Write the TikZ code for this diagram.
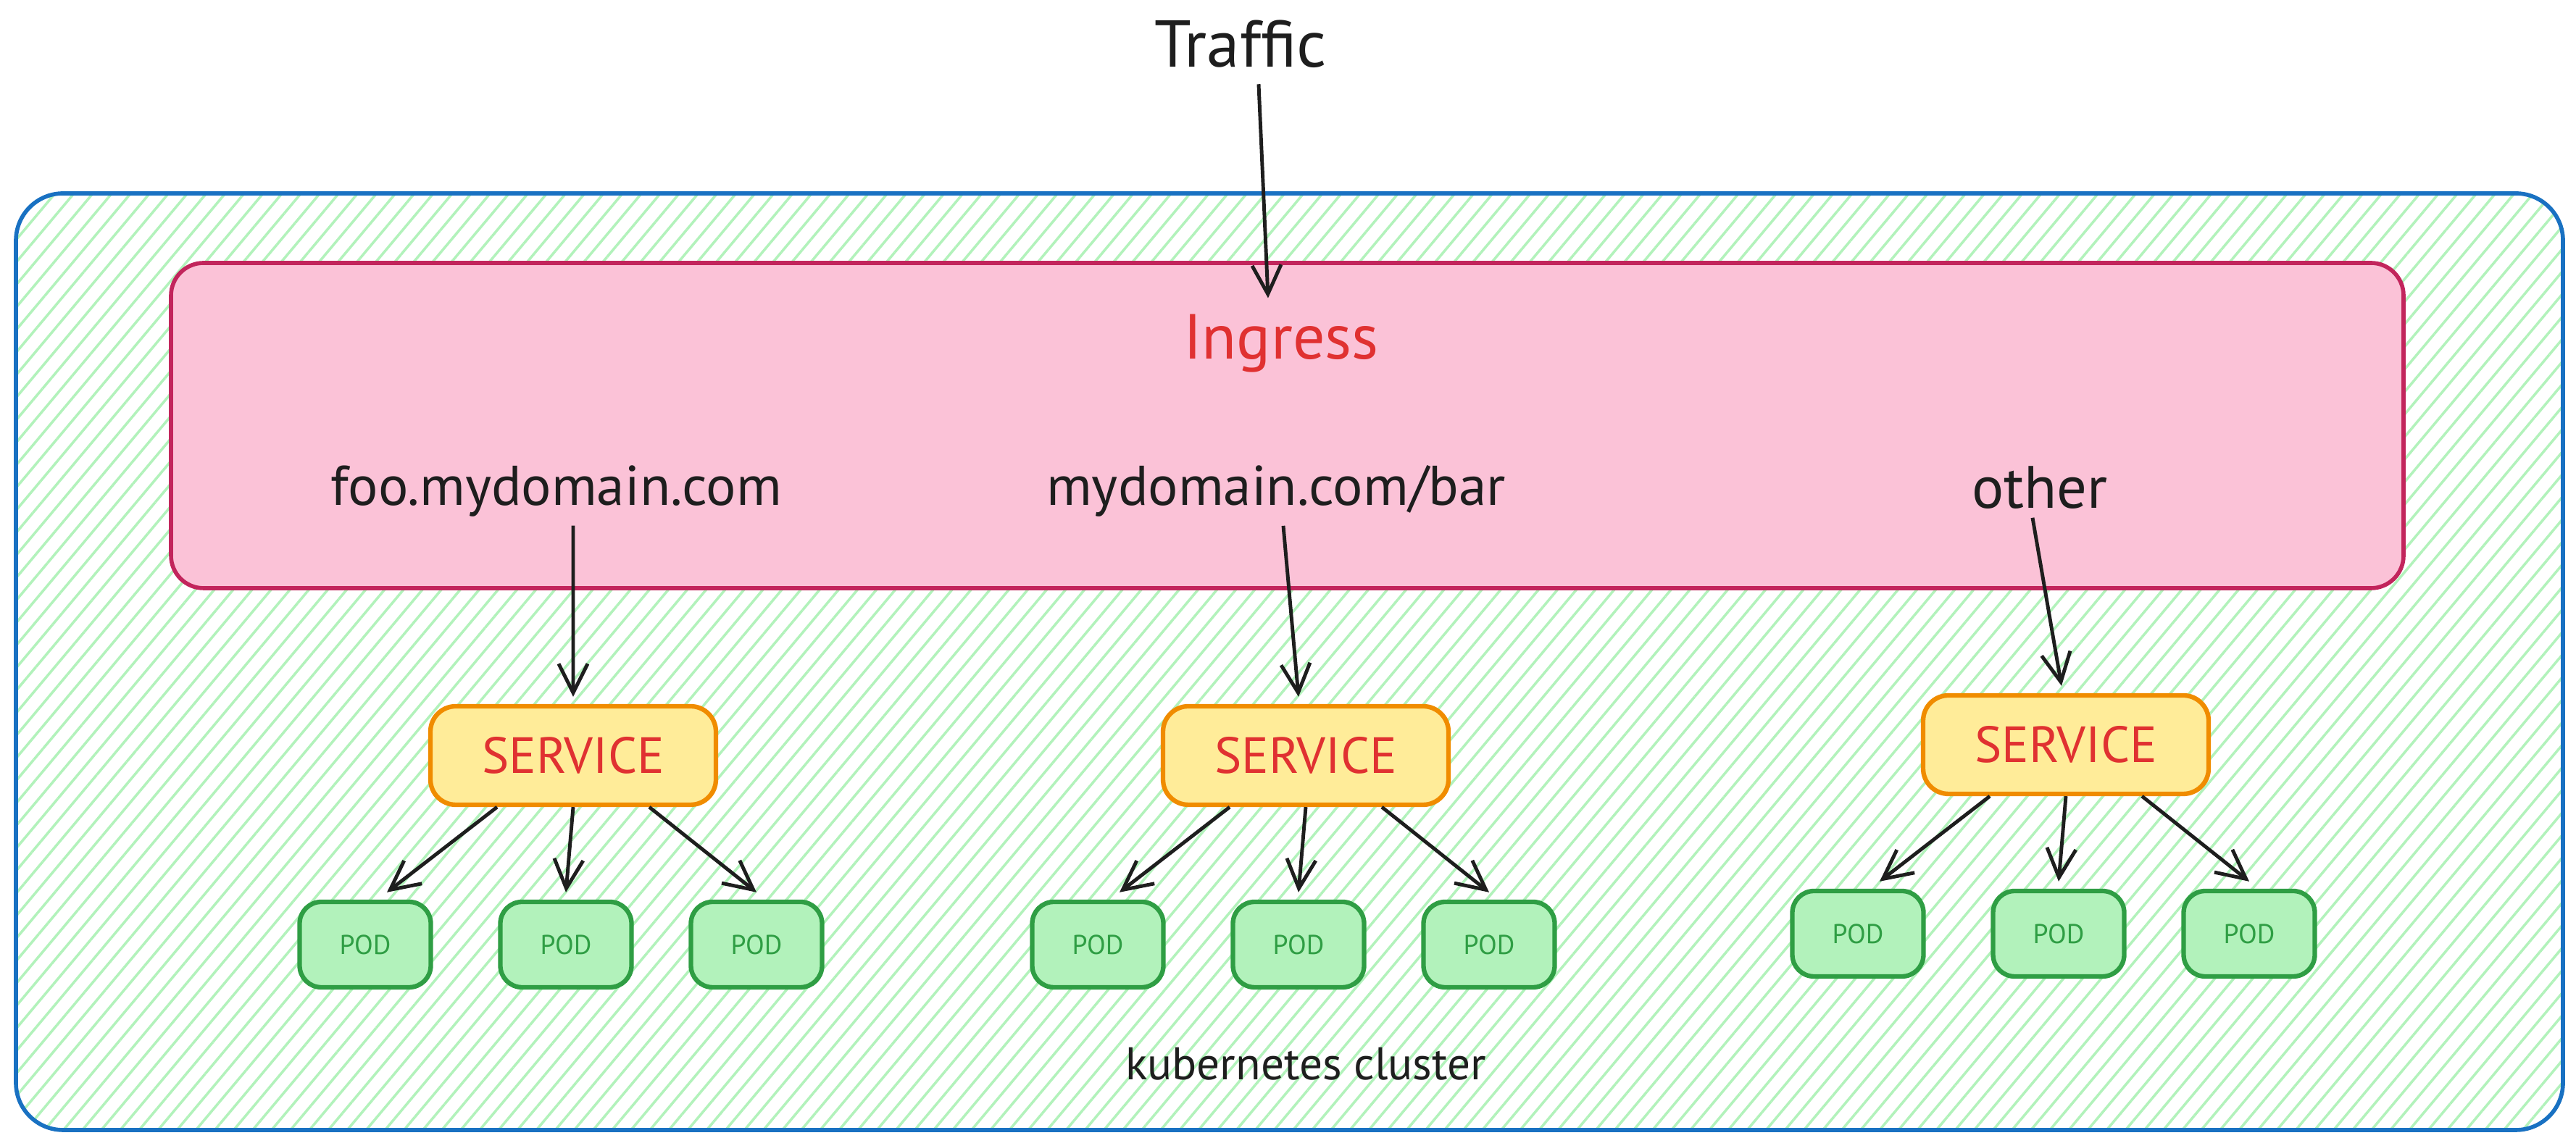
\documentclass[tikz,border=0pt]{standalone}
\usepackage{fontspec}
\setmainfont{PT Sans}
\usetikzlibrary{arrows.meta,patterns.meta}
\definecolor{clusterblue}{HTML}{1971C2}
\definecolor{hatchgreen}{HTML}{B2F2BB}
\definecolor{ingressfill}{HTML}{FBC2D7}
\definecolor{ingressline}{HTML}{C2255C}
\definecolor{labelred}{HTML}{E03131}
\definecolor{svcfill}{HTML}{FFEC99}
\definecolor{svcline}{HTML}{F08C00}
\definecolor{podline}{HTML}{2F9E44}
\definecolor{ink}{HTML}{1E1E1E}
\begin{document}
\begin{tikzpicture}[
    arr/.style={-{Straight Barb[length=4mm,width=4mm]}, line width=1.4pt, draw=ink},
    route/.style={text=ink, font=\fontsize{22}{26}\selectfont},
    svc/.style={draw=svcline, fill=svcfill, line width=1.8pt, rounded corners=0.35cm, minimum width=3.94cm, minimum height=1.36cm, text=labelred, font=\fontsize{20}{24}\selectfont},
    pod/.style={draw=podline, fill=hatchgreen, line width=1.8pt, rounded corners=0.3cm, minimum width=1.81cm, minimum height=1.18cm, text=podline, font=\fontsize{10.7}{13}\selectfont}
]
    \useasboundingbox (0,0) rectangle (35.55,15.71);
    \draw[clusterblue, line width=1.6pt, rounded corners=0.65cm, pattern={Lines[angle=50,distance=0.2cm,line width=1pt]}, pattern color=hatchgreen] (0.22,0.11) rectangle (35.37,13.04);
    \draw[ingressline, fill=ingressfill, line width=1.6pt, rounded corners=0.45cm] (2.36,7.59) rectangle (33.17,12.08);

    \node[route, font=\fontsize{26}{30}\selectfont] (traffic) at (17.12,15.10) {Traffic};
    \node[route, text=labelred, font=\fontsize{25}{30}\selectfont] (ingress) at (17.68,10.97) {Ingress};
    \node[route] (foo) at (7.68,8.93) {foo.mydomain.com};
    \node[route] (bar) at (17.61,8.93) {mydomain.com/bar};
    \node[route, font=\fontsize{23.5}{28}\selectfont] (other) at (28.15,8.98) {other};

    \node[svc] (s1) at (7.91,5.28) {SERVICE};
    \node[svc] (s2) at (18.02,5.28) {SERVICE};
    \node[svc] (s3) at (28.51,5.43) {SERVICE};

    \foreach \s in {1,2,3}
        \foreach \i/\dx in {1/-2.87,2/-0.1,3/2.53}
            \node[pod] (p\s\i) at ([shift={(\dx,-2.61)}]s\s) {POD};

    \node[text=ink, font=\fontsize{18}{22}\selectfont] (cluster) at (18.02,1.02) {kubernetes cluster};

    \draw[arr] ([xshift=2.5mm,yshift=-1mm]traffic.south) -- ([xshift=-1.8mm,yshift=1mm]ingress.north);
    \draw[arr] ([xshift=2.3mm]foo.south) -- ([yshift=1mm]s1.north);
    \draw[arr] ([xshift=1mm]bar.south) -- ([xshift=-1mm,yshift=1mm]s2.north);
    \draw[arr] ([xshift=-1mm]other.south) -- ([xshift=-0.6mm,yshift=1mm]s3.north);

    \foreach \s in {1,2,3} {
        \draw[arr] ([xshift=-10.5mm]s\s.south) -- ([xshift=3mm,yshift=1mm]p\s1.north);
        \draw[arr] (s\s.south) -- ([yshift=1mm]p\s2.north);
        \draw[arr] ([xshift=10.5mm]s\s.south) -- ([yshift=1mm]p\s3.north);
    }
\end{tikzpicture}
\end{document}
